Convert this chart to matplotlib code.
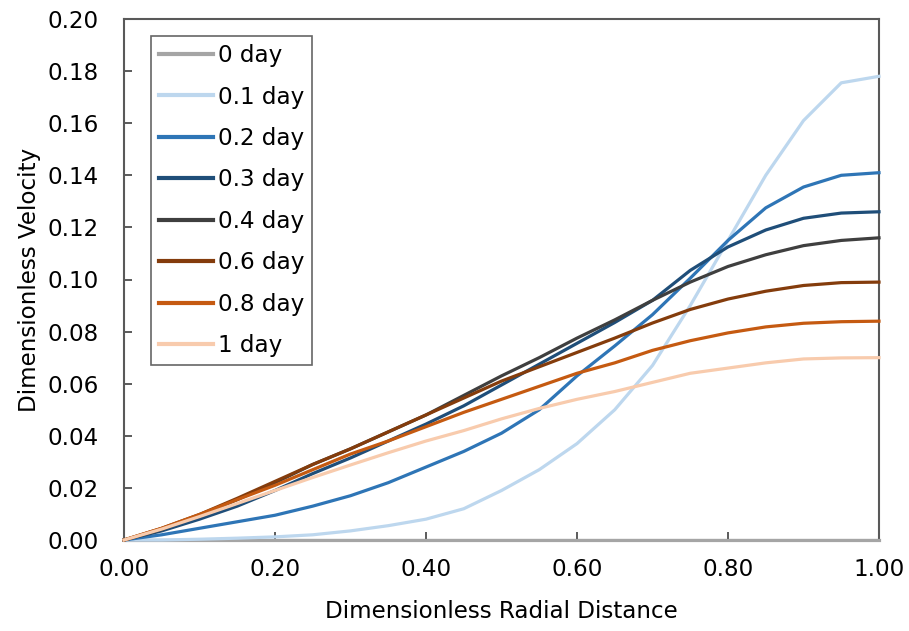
import matplotlib
matplotlib.use("Agg")
import matplotlib.pyplot as plt
import numpy as np

# radial positions (dimensionless)
r = [0.00, 0.05, 0.10, 0.15, 0.20, 0.25, 0.30, 0.35, 0.40, 0.45, 0.50,
     0.55, 0.60, 0.65, 0.70, 0.75, 0.80, 0.85, 0.90, 0.95, 1.00]

v_0 = [0.0] * 21
v_01 = [0.0, 0.0, 0.0003, 0.0007, 0.0012, 0.002, 0.0035, 0.0055, 0.008, 0.012, 0.019,
        0.027, 0.037, 0.050, 0.067, 0.090, 0.115, 0.140, 0.161, 0.1755, 0.178]
v_02 = [0.0, 0.002, 0.0045, 0.007, 0.0095, 0.013, 0.017, 0.022, 0.028, 0.034, 0.041,
        0.050, 0.063, 0.0745, 0.0865, 0.1005, 0.115, 0.1275, 0.1355, 0.140, 0.141]
v_03 = [0.0, 0.0035, 0.008, 0.013, 0.019, 0.0255, 0.0315, 0.038, 0.0445, 0.0515, 0.0595,
        0.0675, 0.0755, 0.0835, 0.092, 0.1035, 0.1125, 0.119, 0.1235, 0.1255, 0.126]
v_04 = [0.0, 0.004, 0.0095, 0.0155, 0.022, 0.029, 0.035, 0.0415, 0.048, 0.0555, 0.063,
        0.070, 0.0775, 0.0845, 0.092, 0.099, 0.105, 0.1095, 0.113, 0.115, 0.116]
v_06 = [0.0, 0.0045, 0.0098, 0.016, 0.0225, 0.029, 0.035, 0.0415, 0.048, 0.0545, 0.061,
        0.0665, 0.072, 0.0775, 0.0833, 0.0885, 0.0925, 0.0955, 0.0977, 0.0988, 0.099]
v_08 = [0.0, 0.0045, 0.0098, 0.0155, 0.021, 0.027, 0.033, 0.038, 0.0435, 0.049, 0.054,
        0.059, 0.064, 0.068, 0.0728, 0.0765, 0.0795, 0.0818, 0.0832, 0.0838, 0.084]
v_1 = [0.0, 0.0042, 0.009, 0.014, 0.019, 0.024, 0.0288, 0.0335, 0.038, 0.042, 0.0465,
       0.0505, 0.054, 0.057, 0.0605, 0.064, 0.066, 0.068, 0.0695, 0.0699, 0.070]

labels = ["0 day", "0.1 day", "0.2 day", "0.3 day", "0.4 day", "0.6 day", "0.8 day", "1 day"]
series = [v_0, v_01, v_02, v_03, v_04, v_06, v_08, v_1]
colors = ["#A5A5A5", "#BDD7EE", "#2E75B6", "#1F4E79", "#3F3F3F", "#843C0C", "#C55A11", "#F8CBAD"]

plt.rcParams["font.family"] = "DejaVu Sans"
FS = 16.6

fig = plt.figure(figsize=(9.09, 6.31), dpi=100)
ax = fig.add_axes([124 / 909, 91 / 631, 755 / 909, 521 / 631])

for vals, lab, c in zip(series, labels, colors):
    ax.plot(r, vals, color=c, linewidth=2.3, label=lab, clip_on=False, zorder=3)

ax.set_xlim(0, 1)
ax.set_ylim(0, 0.2)
ax.set_xticks(np.arange(0, 1.01, 0.2))
ax.set_yticks(np.arange(0, 0.201, 0.02))
ax.xaxis.set_major_formatter(matplotlib.ticker.FormatStrFormatter("%.2f"))
ax.yaxis.set_major_formatter(matplotlib.ticker.FormatStrFormatter("%.2f"))
ax.tick_params(direction="in", length=6, width=1.2, color="#404040",
               labelsize=FS, labelcolor="black")
ax.tick_params(axis="x", pad=13)
ax.tick_params(axis="y", pad=18)
for s in ax.spines.values():
    s.set_color("#595959")
    s.set_linewidth(1.5)

ax.set_xlabel("Dimensionless Radial Distance", fontsize=FS, labelpad=14)
ax.set_ylabel("Dimensionless Velocity", fontsize=FS, labelpad=5)

leg = ax.legend(loc="upper left", bbox_to_anchor=(27 / 755, 1 - 17 / 521),
                borderaxespad=0, fontsize=FS, handlelength=2.35, handletextpad=0.2,
                labelspacing=0.8, borderpad=0.35, fancybox=False, frameon=True)
leg.get_frame().set_edgecolor("#404040")
leg.get_frame().set_linewidth(1.2)
for h in leg.get_lines():
    h.set_linewidth(3)

fig.savefig("out.png", dpi=100)
